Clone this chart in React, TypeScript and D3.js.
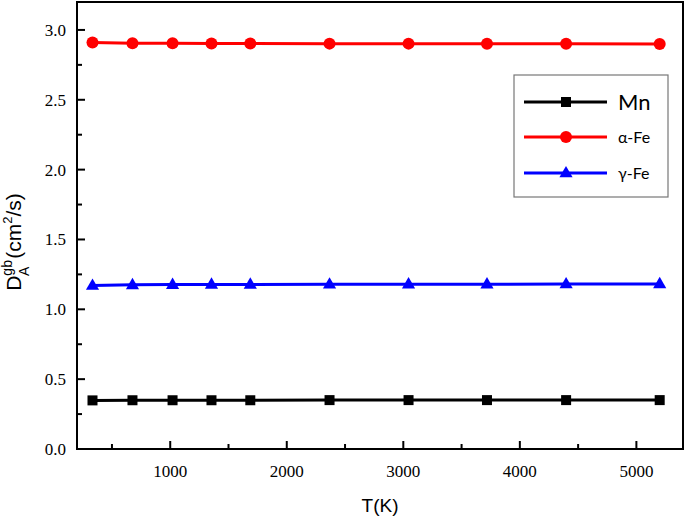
import React from "react";
import * as d3 from "d3";

const temps = [333, 676, 1020, 1354, 1687, 2367, 3045, 3718, 4397, 5200];
const mnValues = [0.348, 0.349, 0.349, 0.349, 0.349, 0.35, 0.35, 0.35, 0.35, 0.35];
const alphaFeValues = [2.91, 2.905, 2.905, 2.903, 2.903, 2.902, 2.902, 2.901, 2.901, 2.9];
const gammaFeValues = [1.17, 1.175, 1.177, 1.178, 1.178, 1.179, 1.18, 1.18, 1.181, 1.182];
const xTicks = [1000, 2000, 3000, 4000, 5000];
const xMinor = [500, 1500, 2500, 3500, 4500];
const yTicks = [0, 0.5, 1.0, 1.5, 2.0, 2.5, 3.0];
const yMinor = [0.25, 0.75, 1.25, 1.75, 2.25, 2.75];
const seriesNames = ["Mn", "α-Fe", "γ-Fe"];
const seriesColors = ["#000000", "#ff0000", "#0000ff"];
const seriesShapes = ["square", "circle", "triangle"];

export default function App() {
  const W = 685, H = 522;
  const left = 77, right = 683, top = 2, bottom = 449;
  const x = d3.scaleLinear().domain([200, 5400]).range([left, right]);
  const y = d3.scaleLinear().domain([0, 3.2]).range([bottom, top]);
  const series = [mnValues, alphaFeValues, gammaFeValues];
  const line = d3.line<number>().x((_, i) => x(temps[i])).y((d) => y(d));

  const marker = (shape: string, cx: number, cy: number, color: string, key: string) => {
    if (shape === "square") {
      return <rect key={key} x={cx - 5} y={cy - 5} width={10} height={10} fill={color} />;
    }
    if (shape === "circle") {
      return <circle key={key} cx={cx} cy={cy} r={6} fill={color} />;
    }
    const p = d3.symbol().type(d3.symbolTriangle).size(75)();
    return <path key={key} d={p as string} transform={`translate(${cx},${cy + 0.5})`} fill={color} />;
  };

  const serif = '"Liberation Serif", "DejaVu Serif", "Times New Roman", Times, serif';
  const sans = '"Liberation Sans", Arial, Helvetica, sans-serif';
  const legendFont = 'Lato, "Open Sans", sans-serif';

  return (
    <svg width={W} height={H} style={{ position: "absolute", left: 0, top: 0, background: "#fff" }}>
      <rect x={0} y={0} width={W} height={H} fill="#fff" />
      {series.map((vals, si) => (
        <g key={si}>
          <path d={line(vals) as string} fill="none" stroke={seriesColors[si]} strokeWidth={3} />
          {vals.map((v, i) => marker(seriesShapes[si], x(temps[i]), y(v), seriesColors[si], `${si}-${i}`))}
        </g>
      ))}
      <rect x={left} y={top} width={right - left} height={bottom - top} fill="none" stroke="#000" strokeWidth={2} />
      {xTicks.map((t) => (
        <g key={`xt${t}`}>
          <line x1={x(t)} x2={x(t)} y1={bottom} y2={bottom - 8} stroke="#000" strokeWidth={2} />
          <text x={x(t)} y={477} textAnchor="middle" fontFamily={serif} fontSize={17}>{t}</text>
        </g>
      ))}
      {xMinor.map((t) => (
        <line key={`xm${t}`} x1={x(t)} x2={x(t)} y1={bottom} y2={bottom - 5} stroke="#000" strokeWidth={2} />
      ))}
      {yTicks.map((t) => (
        <g key={`yt${t}`}>
          <line x1={left} x2={left + 8} y1={y(t)} y2={y(t)} stroke="#000" strokeWidth={2} />
          <text x={66} y={y(t) + 6} textAnchor="end" fontFamily={serif} fontSize={17}>{t.toFixed(1)}</text>
        </g>
      ))}
      {yMinor.map((t) => (
        <line key={`ym${t}`} x1={left} x2={left + 5} y1={y(t)} y2={y(t)} stroke="#000" strokeWidth={2} />
      ))}
      <text x={380} y={512} textAnchor="middle" fontFamily={sans} fontSize={19}>T(K)</text>
      <text transform="translate(21,242) rotate(-90)" textAnchor="middle" fontFamily={sans} fontSize={21}>
        <tspan>D</tspan>
        <tspan fontSize={14} dy={-9}>gb</tspan>
        <tspan fontSize={14} dx={-16} dy={17}>A</tspan>
        <tspan dx={8} dy={-8}>(cm</tspan>
        <tspan fontSize={13} dy={-9}>2</tspan>
        <tspan dy={9}>/s)</tspan>
      </text>
      <rect x={514} y={75} width={154} height={122} fill="#fff" stroke="#777" strokeWidth={1.2} />
      {seriesNames.map((n, i) => {
        const ly = [102, 137, 173][i];
        return (
          <g key={n}>
            <line x1={524} x2={607} y1={ly} y2={ly} stroke={seriesColors[i]} strokeWidth={3} />
            {marker(seriesShapes[i], 566, ly, seriesColors[i], `lg${i}`)}
            <text x={618} y={ly + (i === 0 ? 8 : 6)} fontFamily={legendFont} fontSize={i === 0 ? 22 : 16}>{n}</text>
          </g>
        );
      })}
    </svg>
  );
}
